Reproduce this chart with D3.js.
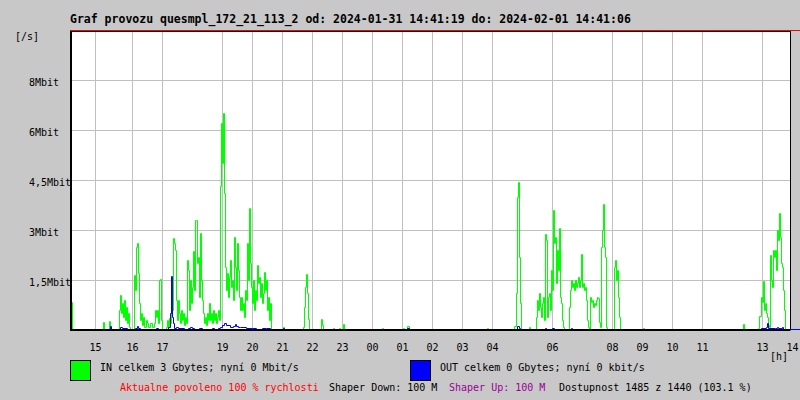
<!DOCTYPE html>
<html>
<head>
<meta charset="utf-8">
<script src="https://cdn.jsdelivr.net/npm/d3@7"></script>
<style>
  html, body { margin: 0; padding: 0; background: #c8c8c8; }
  svg { display: block; }
  text { font-family: "DejaVu Sans Mono", monospace; }
</style>
</head>
<body>
<script>
// ---- data (one sample = 2 minutes since 2024-01-31 14:41:19) ----
const titleText = "Graf provozu quesmpl_172_21_113_2 od: 2024-01-31 14:41:19 do: 2024-02-01 14:41:06";
const yTickValues = [1.5, 3, 4.5, 6, 7.5];              // Mbit/s
const yTickLabels = ["1,5Mbit", "3Mbit", "4,5Mbit", "6Mbit", "8Mbit"];
const xTickSamples = [25, 62, 92, 152, 182, 212, 242, 272, 302, 332, 362, 392, 422, 482, 542, 572, 602, 632, 692, 722];
const xTickLabels = ["15", "16", "17", "19", "20", "21", "22", "23", "00", "01", "02", "03", "04", "06", "08", "09", "10", "11", "13", "14"];

// IN traffic [sample, Mbit/s]
const inSeries = [[0,0.85],[2,0],[32,0],[33,0.25],[34,0],[39,0.27],[40,0.1],[41,0],[48,0],[49,0.6],[50,1.05],[51,0.5],[52,0.8],[53,0.4],[54,0.9],[55,0.3],[56,0.7],[57,0.2],[58,0.5],[59,0.1],[60,0],[63,0],[64,1.65],[65,1.2],[66,2.5],[67,2.6],[68,1.7],[69,0.8],[70,0.3],[71,0.5],[72,0.15],[73,0.4],[74,0.1],[76,0.3],[77,0.2],[78,0.1],[80,0.2],[82,0.1],[84,0.2],[85,0.6],[86,0.4],[87,0.6],[88,0.2],[89,1.5],[90,1.53],[91,0.3],[92,0],[95,0],[96,0.1],[97,0.3],[98,0.1],[99,0.35],[100,0.2],[101,0.9],[102,0.6],[103,2.76],[104,2.6],[105,2.4],[106,0.9],[107,0.3],[108,0.9],[109,0.5],[110,0.2],[111,0.6],[112,0.3],[113,0.5],[114,0.15],[115,0.4],[116,0.2],[117,2.1],[118,1.8],[119,0.6],[120,1.5],[121,0.8],[122,1.3],[123,2.38],[124,1.2],[125,3.3],[126,3.3],[127,2.0],[128,2.2],[129,1.0],[130,2.9],[131,1.5],[132,0.9],[133,0.5],[134,0.2],[135,0.4],[136,0.15],[137,0.5],[138,0.3],[139,0.8],[140,0.3],[141,0.5],[142,0.2],[143,0.6],[144,0.3],[145,0.5],[146,0.2],[147,0.4],[148,0.6],[149,0.3],[150,4.32],[151,6.2],[152,5.0],[153,6.52],[154,4.1],[155,1.9],[156,1.2],[157,1.7],[158,1.0],[159,1.6],[160,2.1],[161,1.3],[162,1.5],[163,0.9],[164,2.8],[165,1.9],[166,1.2],[167,2.6],[168,1.8],[169,1.0],[170,0.6],[171,1.0],[172,0.6],[173,0.8],[174,0.4],[175,1.2],[176,0.9],[177,2.6],[178,1.5],[179,3.65],[180,2.0],[181,1.3],[182,0.8],[183,1.5],[184,0.6],[185,1.2],[186,0.9],[187,1.95],[188,1.4],[189,1.6],[190,1.0],[191,1.4],[192,0.8],[193,1.1],[194,1.75],[195,1.2],[196,1.5],[197,0.6],[198,1.0],[199,0.3],[200,0.8],[201,0],[212,0],[213,0.1],[214,0],[232,0],[233,0.1],[234,0.7],[235,1.3],[236,1.68],[237,1.1],[238,0.33],[239,0],[250,0],[251,0.33],[252,0.15],[253,0],[262,0],[263,0.05],[264,0],[268,0],[269,0.05],[270,0],[272,0],[273,0.18],[274,0],[311,0],[312,0.07],[313,0],[332,0],[333,0.05],[334,0],[336,0],[337,0.12],[339,0],[416,0],[417,0.05],[418,0],[443,0],[444,0.12],[446,1.1],[447,4.0],[448,4.44],[449,2.2],[450,0.8],[451,0],[458,0],[459,0.1],[460,0],[465,0],[466,0.4],[467,0.9],[468,0.6],[469,1.1],[470,0.7],[471,0.4],[472,0.8],[473,1.0],[474,0.3],[475,2.88],[476,2.7],[477,0.4],[478,1.0],[479,1.1],[480,0.6],[481,1.8],[482,1.2],[483,3.6],[484,2.6],[485,2.8],[486,1.4],[487,2.4],[488,1.8],[489,3.05],[490,1.0],[491,0.8],[492,0.3],[493,0.1],[494,0],[498,0],[499,0.7],[500,1.2],[501,1.5],[502,1.3],[503,1.4],[504,1.2],[505,1.5],[506,1.3],[507,1.4],[508,1.6],[509,1.3],[510,1.5],[511,2.28],[512,1.3],[513,1.4],[514,1.2],[515,1.3],[516,0.9],[517,0.3],[518,0.1],[519,0],[520,1.0],[521,0.85],[522,0.9],[523,0.7],[524,0.8],[525,0.75],[526,0.9],[527,1.0],[528,0.95],[529,0.25],[530,0.1],[531,2.5],[532,3.0],[533,3.78],[534,2.5],[535,2.2],[536,0.1],[537,0],[543,0],[544,1.9],[545,2.1],[546,1.5],[547,1.8],[548,1.0],[549,0.4],[550,0],[572,0],[573,0.05],[574,0],[672,0],[673,0.18],[674,0],[687,0],[688,0.05],[689,0.42],[691,1.0],[692,0.85],[693,1.47],[694,0.6],[695,0.8],[696,0.5],[697,0.4],[698,0.15],[699,0.1],[700,2.25],[701,1.5],[702,1.3],[703,2.4],[704,2.2],[705,2.4],[706,1.8],[707,3.0],[708,2.7],[709,3.5],[710,2.8],[711,2.0],[712,1.9],[713,1.2],[714,0.6],[715,0],[720,0]];

// OUT traffic [sample, Mbit/s]
const outSeries = [[0,0.1],[1,0],[39,0],[40,0.12],[41,0],[49,0],[50,0.1],[52,0.05],[57,0],[64,0],[65,0.05],[67,0.12],[68,0.05],[70,0],[85,0],[86,0.05],[88,0],[97,0],[98,0.08],[100,0.5],[101,1.62],[102,0.4],[103,0.2],[104,0.05],[106,0.1],[108,0.05],[114,0],[118,0.05],[120,0.1],[122,0.05],[124,0],[129,0.05],[132,0],[142,0.05],[144,0],[148,0.05],[150,0.1],[152,0.15],[154,0.2],[156,0.15],[160,0.1],[163,0.12],[165,0.18],[166,0.12],[168,0.1],[170,0.08],[176,0.05],[182,0.05],[186,0.03],[192,0.05],[196,0.05],[200,0],[213,0.05],[214,0],[337,0.05],[339,0],[446,0],[447,0.12],[449,0.05],[450,0],[470,0],[471,0.03],[475,0.06],[476,0.03],[482,0.06],[484,0.03],[490,0],[500,0],[501,0.05],[502,0],[505,0],[506,0.04],[514,0],[531,0],[532,0.04],[534,0],[544,0],[545,0.04],[546,0],[690,0],[691,0.05],[696,0.1],[697,0.2],[698,0.05],[705,0.05],[707,0.1],[708,0.05],[712,0.08],[713,0],[720,0]];

const legendTexts = ["IN celkem 3 Gbytes; nyní 0 Mbit/s", "OUT celkem 0 Gbytes; nyní 0 kbit/s"];
const legendColors = ["#00ff00", "#0000ff"];
const footerTexts = ["Aktualne povoleno 100 % rychlosti", "Shaper Down: 100 M", "Shaper Up: 100 M", "Dostupnost 1485 z 1440 (103.1 %)"];
const footerColors = ["#ff0000", "#000000", "#990099", "#000000"];

// ---- drawing ----
const W = 800, H = 400;
const plotL = 70, plotR = 790, plotT = 31, plotB = 330;

const svg = d3.select("body").append("svg").attr("width", W).attr("height", H);
svg.append("rect").attr("width", W).attr("height", H).attr("fill", "#c8c8c8");

const x = d3.scaleLinear().domain([0, 720]).range([plotL, plotR]);
const y = d3.scaleLinear().domain([0, 9]).range([plotB, plotB - 300]);

svg.append("rect").attr("x", plotL).attr("y", plotT).attr("width", plotR - plotL).attr("height", plotB - plotT).attr("fill", "#ffffff");

// grid
const crisp = v => Math.round(v) + 0.5;
svg.append("g").selectAll("line").data(yTickValues).join("line")
  .attr("x1", plotL).attr("x2", plotR)
  .attr("y1", d => crisp(y(d))).attr("y2", d => crisp(y(d)))
  .attr("stroke", "#c0c0c0").attr("stroke-width", 1);
svg.append("g").selectAll("line").data(xTickSamples.filter(d => x(d) < plotR)).join("line")
  .attr("x1", d => crisp(x(d))).attr("x2", d => crisp(x(d)))
  .attr("y1", plotT).attr("y2", plotB)
  .attr("stroke", "#c0c0c0").attr("stroke-width", 1);

// series
const line = d3.line().x(d => crisp(x(d[0]))).y(d => crisp(y(d[1]))).curve(d3.curveStepAfter);
svg.append("path").datum(inSeries).attr("d", line).attr("fill", "none").attr("stroke", "#00ff00").attr("stroke-width", 1);
svg.append("path").datum(outSeries).attr("d", line).attr("fill", "none").attr("stroke", "#0000ff").attr("stroke-width", 1);

// frame
svg.append("line").attr("x1", plotL).attr("x2", W).attr("y1", 30.5).attr("y2", 30.5).attr("stroke", "#ff0000");
svg.append("line").attr("x1", plotL).attr("x2", plotR).attr("y1", 31.5).attr("y2", 31.5).attr("stroke", "#000");
svg.append("line").attr("x1", plotR + 0.5).attr("x2", plotR + 0.5).attr("y1", 31).attr("y2", plotB).attr("stroke", "#000");
svg.append("line").attr("x1", plotR).attr("x2", W).attr("y1", 329.5).attr("y2", 329.5).attr("stroke", "#0000ff");
svg.append("line").attr("x1", plotL).attr("x2", plotR).attr("y1", 330).attr("y2", 330).attr("stroke", "#000").attr("stroke-width", 2);
svg.append("line").attr("x1", 71).attr("x2", 71).attr("y1", 31).attr("y2", 331).attr("stroke", "#000").attr("stroke-width", 2);

// y labels
svg.append("g").selectAll("text").data(yTickValues).join("text")
  .attr("x", 29).attr("y", d => y(d) + 6)
  .attr("font-size", 10).attr("fill", "#000")
  .text((d, i) => yTickLabels[i]);
svg.append("text").attr("x", 15).attr("y", 40).attr("font-size", 10).text("[/s]");

// x labels
svg.append("g").selectAll("text").data(xTickSamples).join("text")
  .attr("x", d => x(d) + 0.5).attr("y", 351)
  .attr("text-anchor", "middle").attr("font-size", 10).attr("fill", "#000")
  .text((d, i) => xTickLabels[i]);
svg.append("text").attr("x", 770).attr("y", 360).attr("font-size", 10).text("[h]");

// title
svg.append("text").attr("x", 70).attr("y", 23).attr("font-size", 11.5).attr("font-weight", "bold").text(titleText);

// legend
const legX = [70, 410];
legendTexts.forEach((t, i) => {
  svg.append("rect").attr("x", legX[i] + 0.5).attr("y", 360.5).attr("width", 20).attr("height", 20)
    .attr("fill", legendColors[i]).attr("stroke", "#000");
  svg.append("text").attr("x", legX[i] + 30).attr("y", 371).attr("font-size", 10).text(t);
});

// footer
const footX = [120, 329, 449, 559];
footerTexts.forEach((t, i) => {
  svg.append("text").attr("x", footX[i]).attr("y", 391).attr("font-size", 10).attr("fill", footerColors[i]).text(t);
});
</script>
</body>
</html>
